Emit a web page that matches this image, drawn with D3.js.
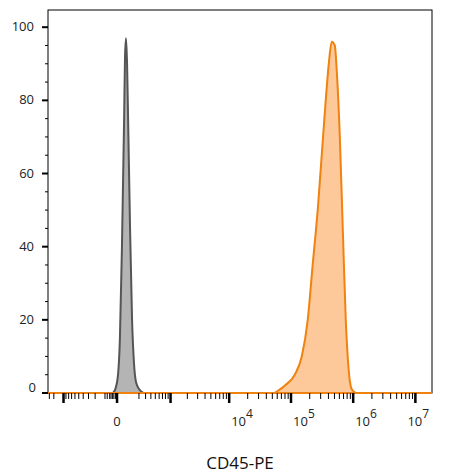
<!DOCTYPE html><html><head><script src="https://cdn.jsdelivr.net/npm/d3@7"></script>
<style>body{margin:0;background:#fff}</style></head><body><svg id="c" width="449" height="476"></svg><script>
const grayX=[-27,-11,6,18,32,48,55,63,72,81,99,119,140,163,203,262];
const grayY=[0,1,5,15,40,75,92,97,90,75,45,20,8,3,1,0];
const orangeX=[5.4e4,7.9e4,1.15e5,1.49e5,1.86e5,2.23e5,2.69e5,3.12e5,3.62e5,4.05e5,4.53e5,5.06e5,5.45e5,6.1e5,6.8e5,7.6e5,8.5e5,9.5e5,1.1e6];
const orangeY=[0,2,5,10,20,35,50,65,80,90,96,95,88,70,45,20,6,1,0];
const yTicks=[0,20,40,60,80,100];
const xMajor=[-1000,0,1000,1e4,1e5,1e6,1e7];
const xLabels=[[0,"0"],[1e4,"4"],[1e5,"5"],[1e6,"6"],[1e7,"7"]];
const svg=d3.select("#c");
const L=48,R=432,T=10,B=393;
const x=d3.scaleSymlog().constant(160).domain([-1900,1.85e7]).range([L,R]);
const y=d3.scaleLinear().domain([0,104.7]).range([B,T]);
svg.append("rect").attr("x",L).attr("y",T).attr("width",R-L).attr("height",B-T).attr("fill","none").attr("stroke","#000");
const area=(xs,ys)=>d3.area().x((d,i)=>x(xs[i])).y0(y(0)).y1((d,i)=>y(ys[i])).curve(d3.curveMonotoneX)(ys);
const line=(xs,ys)=>d3.line().x((d,i)=>x(xs[i])).y((d,i)=>y(ys[i])).curve(d3.curveMonotoneX)(ys);
svg.append("path").attr("d",area(grayX,grayY)).attr("fill","#b4b4b4");
svg.append("path").attr("d",line(grayX,grayY)).attr("fill","none").attr("stroke","#555").attr("stroke-width",2);
svg.append("path").attr("d",area(orangeX,orangeY)).attr("fill","#fdc89a");
svg.append("line").attr("x1",L).attr("x2",R).attr("y1",y(0)).attr("y2",y(0)).attr("stroke","#f0820f").attr("stroke-width",2);
svg.append("path").attr("d",line(orangeX,orangeY)).attr("fill","none").attr("stroke","#f0820f").attr("stroke-width",2);
const ya=svg.append("g");
for(let v=0;v<=100;v+=5){const maj=v%20==0;ya.append("line").attr("x1",maj?L-6:L-3).attr("x2",L).attr("y1",y(v)).attr("y2",y(v)).attr("stroke","#000").attr("stroke-width",maj?2:1);}
yTicks.forEach(v=>ya.append("text").attr("x",v==0?36:34).attr("y",y(v)+(v==0?-1:4)).attr("text-anchor","end").attr("font-family","Open Sans, sans-serif").attr("font-size",13).attr("fill","#222").text(v));
const xa=svg.append("g");
const minor=[];
for(let k=2;k<10;k++){minor.push(-k*100,k*100,k*1000);}
for(let e=4;e<7;e++)for(let k=2;k<10;k++)minor.push(k*Math.pow(10,e));
[-1500,-1800,-90,-70,-50,-30,-10,-20,-40].forEach(v=>minor.push(v));
minor.forEach(v=>{if(x(v)>=L&&x(v)<=R)xa.append("line").attr("x1",x(v)).attr("x2",x(v)).attr("y1",B).attr("y2",B+6).attr("stroke","#000");});
xMajor.forEach(v=>xa.append("line").attr("x1",x(v)).attr("x2",x(v)).attr("y1",B).attr("y2",B+10).attr("stroke","#000").attr("stroke-width",2.5));
xLabels.forEach(([v,e])=>{const t=xa.append("text").attr("x",v==0?x(v):(v==1e7?x(v)-8:x(v)+2)).attr("y",426).attr("text-anchor",v==0?"middle":"start").attr("font-family","Open Sans, sans-serif").attr("font-size",13).attr("fill","#222");
if(v==0)t.text("0");else{t.append("tspan").text("10");t.append("tspan").attr("dy",-8).attr("font-size",12).text(e);}});
svg.append("text").attr("x",240).attr("y",469).attr("text-anchor","middle").attr("font-family","Open Sans, sans-serif").attr("font-size",17).attr("fill","#111").text("CD45-PE");
</script></body></html>
